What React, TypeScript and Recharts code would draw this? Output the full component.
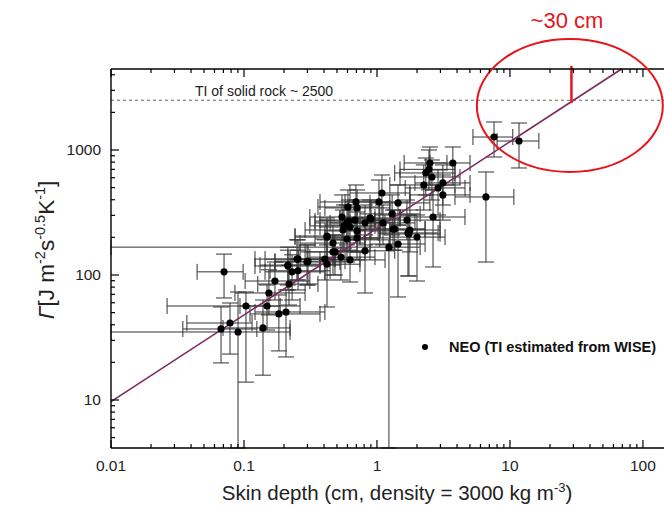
import React from 'react';
import { ScatterChart, Scatter, XAxis, YAxis, ErrorBar, ReferenceLine, ReferenceDot } from 'recharts';

const FONT = '"Liberation Sans", Arial, Helvetica, sans-serif';

// Skin depth (cm)
const xs = [
  0.0708, 0.1035, 0.0785, 0.0672, 0.0902, 0.139, 0.149, 0.154, 0.171, 0.183,
  0.207, 0.214, 0.218, 0.23, 0.25, 0.255, 0.298, 0.421, 0.467, 0.483,
  0.421, 0.546, 0.555, 0.595, 2.5, 2.33, 2.59, 2.25, 3.13, 2.88,
  3.13, 2.64, 1.09, 1.035, 1.44, 0.695, 0.708, 0.902, 0.813, 1.3,
  1.68, 1.11, 0.615, 0.565, 0.627, 0.708, 0.421, 0.595, 0.708, 1.36,
  1.74, 2.0, 1.44, 1.23, 0.813, 0.467, 0.536, 0.255, 0.303, 0.214,
  0.406, 0.627, 7.59, 11.7, 2.46, 3.72, 6.6, 1.77, 1.71, 1.32,
  0.886, 0.684, 0.605,
];
// Thermal inertia Γ
const ys = [
  106, 56.5, 41.3, 37.0, 35.0, 37.7, 56.5, 71.8, 89.5, 48.8,
  50.6, 120, 84.7, 106, 134, 108, 127, 122, 180, 153,
  205, 291, 229, 261, 787, 655, 608, 525, 545, 497,
  437, 291, 453, 384, 377, 384, 344, 281, 261, 308,
  275, 261, 270, 247, 242, 225, 201, 194, 198, 233,
  213, 201, 177, 167, 156, 153, 139, 134, 129, 118,
  134, 132, 1270, 1180, 700, 787, 421, 229, 217, 233,
  286, 275, 350,
];
const xLow = [
  0.0444, 0.0264, 0.0372, 0.0347, 0.01, 0.0695, 0.0933, 0.0855, 0.102, 0.111,
  0.121, 0.132, 0.127, 0.144, 0.144, 0.157, 0.171, 0.264, 0.264, 0.288,
  0.242, 0.313, 0.288, 0.342, 1.6, 1.36, 1.49, 1.25, 1.93, 1.63,
  1.77, 1.49, 0.627, 0.575, 0.886, 0.373, 0.406, 0.527, 0.444, 0.745,
  0.966, 0.627, 0.342, 0.313, 0.373, 0.406, 0.242, 0.342, 0.406, 0.813,
  1.05, 1.25, 0.886, 0.01, 0.483, 0.264, 0.313, 0.121, 0.171, 0.121,
  0.222, 0.373, 5.27, 8.0, 1.49, 2.5, 3.86, 1.05, 1.02, 0.745,
  0.527, 0.373, 0.36,
];
const xHigh = [
  0.0985, 0.187, 0.115, 0.125, 0.222, 0.222, 0.264, 0.288, 0.313, 0.373,
  0.406, 0.373, 0.36, 0.406, 0.483, 0.444, 0.527, 0.745, 0.813, 0.886,
  0.745, 0.966, 1.05, 1.15, 3.36, 3.86, 4.21, 3.86, 5.01, 4.59,
  5.01, 4.59, 1.77, 1.77, 2.5, 1.25, 1.25, 1.49, 1.36, 2.11,
  2.98, 1.93, 1.05, 0.966, 1.15, 1.25, 0.745, 1.05, 1.25, 2.3,
  2.98, 3.25, 2.3, 2.11, 1.36, 0.813, 0.966, 0.483, 0.575, 0.373,
  0.745, 1.15, 10.5, 16.5, 3.86, 5.01, 10.7, 2.98, 2.88, 2.3,
  1.49, 1.25, 1.05,
];
const yLow = [
  65.5, 13.9, 23.3, 19.8, 4.13, 15.8, 36.3, 47.9, 63.1, 24.7,
  22.1, 83.2, 57.5, 63.1, 91.2, 75.9, 83.2, 55.5, 120, 100,
  137, 191, 158, 174, 525, 437, 398, 331, 363, 302,
  275, 116, 302, 251, 251, 265, 229, 191, 174, 209,
  191, 174, 191, 164, 158, 153, 132, 127, 132, 158,
  98.2, 89.5, 66.7, 4.13, 71.8, 100, 91.2, 91.2, 83.2, 75.9,
  91.2, 87.9, 879, 718, 480, 525, 127, 153, 98.2, 158,
  198, 191, 251,
];
const yHigh = [
  147, 73.1, 59.7, 55.5, 73.1, 63.1, 83.2, 110, 127, 69.2,
  75.9, 167, 120, 145, 191, 158, 174, 174, 251, 209,
  286, 437, 331, 363, 1057, 863, 832, 759, 759, 692,
  631, 479, 631, 575, 525, 525, 479, 398, 363, 437,
  398, 363, 398, 363, 331, 319, 275, 275, 286, 331,
  302, 302, 251, 191, 209, 209, 191, 191, 174, 158,
  191, 191, 1675, 1644, 1000, 1057, 667, 331, 302, 331,
  398, 398, 479,
];

// Fit line end points
const fitX = [0.01, 69];
const fitY = [9.7, 4446];

// Solid rock thermal inertia and highlighted skin depth
const solidRockTI = 2500;
const markX = 29;
const markY = [2380, 4700];
const circleCenter = { x: 28.2, y: 2270 };

const xMajorTicks = [0.01, 0.1, 1, 10, 100];
const xMinorTicks = [
  0.02, 0.03, 0.04, 0.05, 0.06, 0.07, 0.08, 0.09,
  0.2, 0.3, 0.4, 0.5, 0.6, 0.7, 0.8, 0.9,
  2, 3, 4, 5, 6, 7, 8, 9,
  20, 30, 40, 50, 60, 70, 80, 90,
];
const yMajorTicks = [10, 100, 1000];
const yMinorTicks = [
  5, 6, 7, 8, 9,
  20, 30, 40, 50, 60, 70, 80, 90,
  200, 300, 400, 500, 600, 700, 800, 900,
  2000, 3000, 4000,
];

const xDomain = [0.01, 144];
const yDomain = [4.13, 4446];

const data = xs.map((x, i) => ({
  x,
  y: ys[i],
  ex: [x - xLow[i], xHigh[i] - x],
  ey: [ys[i] - yLow[i], yHigh[i] - ys[i]],
}));

const allX = [...xMajorTicks, ...xMinorTicks].sort((a, b) => a - b);
const allY = [...yMajorTicks, ...yMinorTicks].sort((a, b) => a - b);

const BottomTick = (props: any) => {
  const { x, y, payload } = props;
  const v = payload.value;
  const major = xMajorTicks.includes(v);
  return (
    <g>
      <line x1={x} x2={x} y1={y} y2={y - (major ? 8 : 4)} stroke="#000" strokeWidth={1.2} />
      {major && (
        <text x={x} y={y + 23} textAnchor="middle" fontSize={15.5} fill="#222" fontFamily={FONT}>
          {String(v)}
        </text>
      )}
    </g>
  );
};

const TopTick = (props: any) => {
  const { x, y, payload } = props;
  const major = xMajorTicks.includes(payload.value);
  return <line x1={x} x2={x} y1={y} y2={y + (major ? 8 : 4)} stroke="#000" strokeWidth={1.2} />;
};

const LeftTick = (props: any) => {
  const { x, y, payload } = props;
  const v = payload.value;
  const major = yMajorTicks.includes(v);
  return (
    <g>
      <line x1={x} x2={x + (major ? 8 : 4)} y1={y} y2={y} stroke="#000" strokeWidth={1.2} />
      {major && (
        <text x={x - 10} y={y + 5.5} textAnchor="end" fontSize={15.5} fill="#222" fontFamily={FONT}>
          {String(v)}
        </text>
      )}
    </g>
  );
};

const Dot = (props: any) => <circle cx={props.cx} cy={props.cy} r={3.6} fill="#000" />;

const Ellipse = (props: any) => (
  <ellipse cx={props.cx} cy={props.cy} rx={93} ry={66.5} fill="none" stroke="#e8141b" strokeWidth={2} />
);

export default function App() {
  return (
    <div style={{ position: 'fixed', left: 0, top: 0, width: 664, height: 507, overflow: 'hidden', background: '#fff' }}>
      <ScatterChart width={664} height={507} margin={{ top: 59, right: 0, bottom: 29, left: 51 }}>
        <XAxis
          type="number"
          dataKey="x"
          scale="log"
          domain={xDomain}
          allowDataOverflow
          ticks={allX}
          interval={0}
          tick={<BottomTick />}
          tickLine={false}
          tickSize={0}
          tickMargin={0}
          height={30}
          axisLine={{ stroke: '#000', strokeWidth: 1.4 }}
        />
        <XAxis
          xAxisId="top"
          orientation="top"
          type="number"
          dataKey="x"
          scale="log"
          domain={xDomain}
          allowDataOverflow
          ticks={allX}
          interval={0}
          tick={<TopTick />}
          tickLine={false}
          tickSize={0}
          tickMargin={0}
          height={10}
          axisLine={{ stroke: '#000', strokeWidth: 1.4 }}
        />
        <YAxis
          type="number"
          dataKey="y"
          scale="log"
          domain={yDomain}
          allowDataOverflow
          ticks={allY}
          interval={0}
          tick={<LeftTick />}
          tickLine={false}
          tickSize={0}
          tickMargin={0}
          width={60}
          axisLine={{ stroke: '#000', strokeWidth: 1.4 }}
        />
        <ReferenceLine y={solidRockTI} stroke="#666" strokeDasharray="3 3" strokeWidth={1} />
        <Scatter data={data} shape={<Dot />} isAnimationActive={false}>
          <ErrorBar dataKey="ex" direction="x" width={8} stroke="#333" strokeWidth={1} isAnimationActive={false} />
          <ErrorBar dataKey="ey" direction="y" width={8} stroke="#333" strokeWidth={1} isAnimationActive={false} />
        </Scatter>
        <ReferenceLine
          segment={[{ x: fitX[0], y: fitY[0] }, { x: fitX[1], y: fitY[1] }]}
          stroke="#7a2a5e"
          strokeWidth={1.6}
          ifOverflow="visible"
        />
        <ReferenceLine
          segment={[{ x: markX, y: markY[0] }, { x: markX, y: markY[1] }]}
          stroke="#e8141b"
          strokeWidth={2.5}
          ifOverflow="visible"
        />
        <ReferenceDot x={circleCenter.x} y={circleCenter.y} shape={<Ellipse />} ifOverflow="visible" />
      </ScatterChart>
      <svg width={664} height={507} style={{ position: 'absolute', left: 0, top: 0, pointerEvents: 'none' }}>
        <text x={195} y={96} fontSize={14} fill="#222" fontFamily={FONT}>TI of solid rock ~ 2500</text>
        <text x={567} y={28} textAnchor="middle" fontSize={22} fill="#e8141b" fontFamily={FONT}>~30 cm</text>
        <circle cx={425} cy={347} r={3} fill="#000" />
        <text x={449} y={352} fontSize={14.5} fontWeight="bold" fill="#111" fontFamily={FONT}>
          NEO (TI estimated from WISE)
        </text>
        <text x={397} y={500} textAnchor="middle" fontSize={20.5} fill="#222" fontFamily={FONT}>
          Skin depth (cm, density = 3000 kg m
          <tspan dy={-8} fontSize={13}>-3</tspan>
          <tspan dy={8}>)</tspan>
        </text>
        <g transform="translate(54,250) rotate(-90)">
          <text x={0} y={0} textAnchor="middle" fontSize={22.5} fill="#222" fontFamily={FONT}>
            <tspan fontStyle="italic">Γ</tspan>
            <tspan>[J m</tspan>
            <tspan dy={-9} fontSize={14.5}>-2</tspan>
            <tspan dy={9}>s</tspan>
            <tspan dy={-9} fontSize={14.5}>-0.5</tspan>
            <tspan dy={9}>K</tspan>
            <tspan dy={-9} fontSize={14.5}>-1</tspan>
            <tspan dy={9}>]</tspan>
          </text>
        </g>
      </svg>
    </div>
  );
}
